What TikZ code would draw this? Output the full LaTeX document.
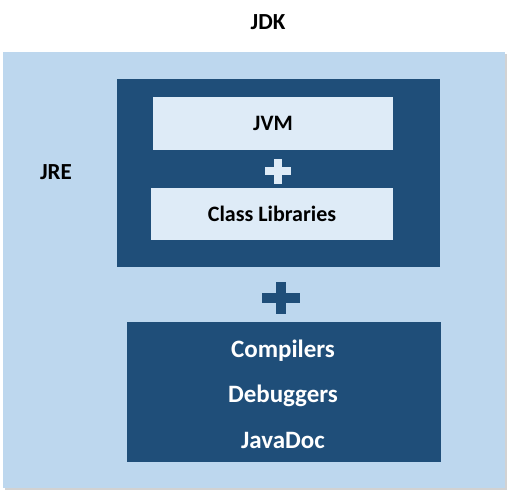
\documentclass[tikz,border=0pt]{standalone}
\usepackage{fontspec}
\setmainfont{Carlito}
\usetikzlibrary{shadows}
\definecolor{bgblue}{HTML}{BDD7EE}
\definecolor{darkblue}{HTML}{1F4E79}
\definecolor{paleblue}{HTML}{DEEBF7}
\begin{document}
\begin{tikzpicture}[x=1pt,y=-1pt,
  lbl/.style={font=\fontsize{22}{26}\selectfont\bfseries, text=black, inner sep=0pt},
  biglbl/.style={lbl, font=\fontsize{23}{27}\selectfont\bfseries},
  wlbl/.style={lbl, text=white, font=\fontsize{25}{29}\selectfont\bfseries},
  box/.style={rectangle, inner sep=0pt, draw=none},
]
\useasboundingbox (0,0) rectangle (512,495);
\fill[white] (0,0) rectangle (512,495);
% outer JDK area
\node[box, fill=bgblue, minimum width=502pt, minimum height=436pt,
  drop shadow={shadow xshift=2pt, shadow yshift=-2pt, opacity=0.35, fill=gray}] (jdk) at (254,270) {};
\node[biglbl] (jdklbl) at (268,22) {JDK};
\node[biglbl] (jre) at (56,172) {JRE};
% JRE dark box
\node[box, fill=darkblue, minimum width=323pt, minimum height=188pt] (jrebox) at (278.5,173) {};
\node[box, fill=paleblue, minimum width=240pt, minimum height=53pt] (jvm) at (273,123.5) {};
\node[lbl] (jvmlbl) at (jvm.center) {JVM};
\node[box, fill=paleblue, minimum width=242pt, minimum height=52pt] (cl) at (272,214) {};
\node[lbl] (cllbl) at (cl.center) {Class Libraries};
% small plus
\coordinate (p1) at (278,171);
\fill[paleblue] ([xshift=-13pt,yshift=4pt]p1) rectangle ([xshift=13pt,yshift=-4pt]p1);
\fill[paleblue] ([xshift=-4pt,yshift=12.5pt]p1) rectangle ([xshift=4pt,yshift=-12.5pt]p1);
% big plus
\coordinate (p2) at (281,298);
\fill[darkblue] ([xshift=-19pt,yshift=5pt]p2) rectangle ([xshift=19pt,yshift=-5pt]p2);
\fill[darkblue] ([xshift=-5pt,yshift=16pt]p2) rectangle ([xshift=5pt,yshift=-16pt]p2);
% tools box
\node[box, fill=darkblue, minimum width=314pt, minimum height=140pt] (tools) at (284,392) {};
\node[wlbl] (comp) at (283,351) {Compilers};
\node[wlbl] (dbg) at (283,396) {Debuggers};
\node[wlbl] (jdoc) at (283,440) {JavaDoc};
\end{tikzpicture}
\end{document}
